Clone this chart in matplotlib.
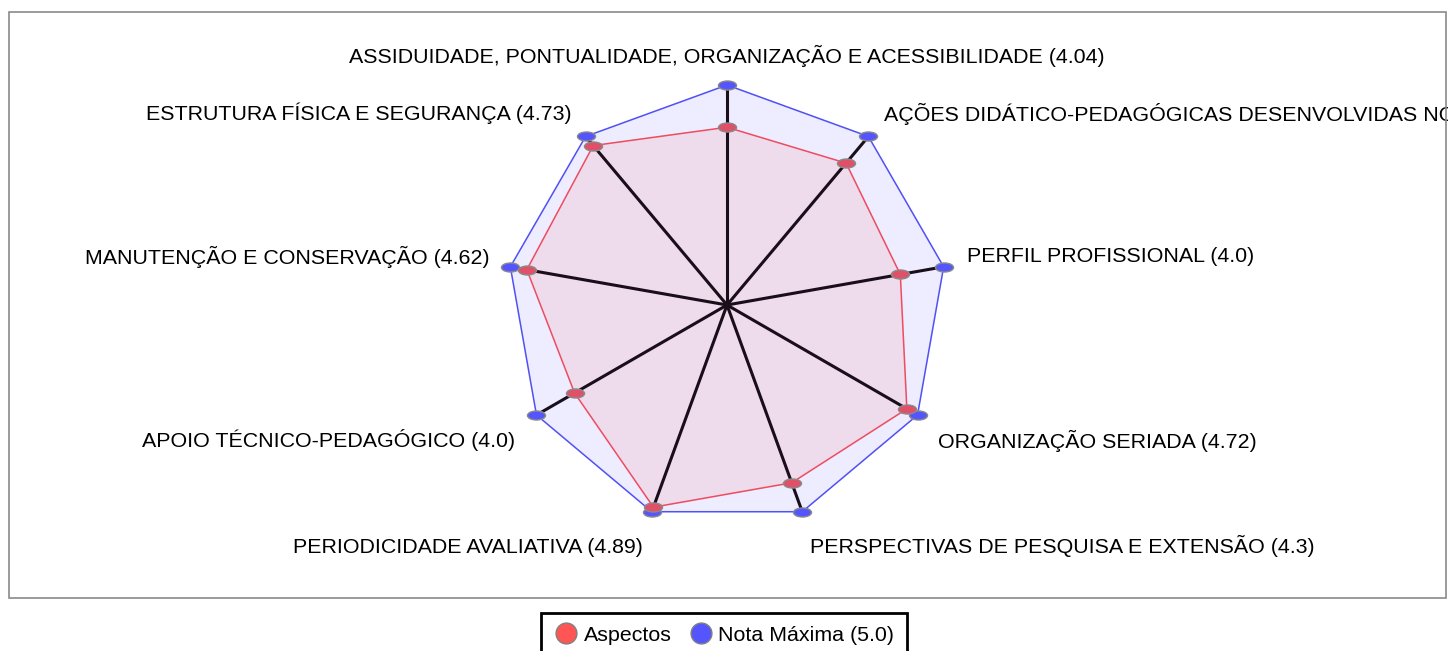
import numpy as np
import matplotlib
matplotlib.use("Agg")
import matplotlib.pyplot as plt
from matplotlib.path import Path
from matplotlib.transforms import Affine2D
from matplotlib.lines import Line2D
from matplotlib.patches import Rectangle

plt.rcParams['font.family'] = ['Liberation Sans', 'DejaVu Sans']

categories = [
    "ASSIDUIDADE, PONTUALIDADE, ORGANIZAÇÃO E ACESSIBILIDADE",
    "AÇÕES DIDÁTICO-PEDAGÓGICAS DESENVOLVIDAS NO CURSO",
    "PERFIL PROFISSIONAL",
    "ORGANIZAÇÃO SERIADA",
    "PERSPECTIVAS DE PESQUISA E EXTENSÃO",
    "PERIODICIDADE AVALIATIVA",
    "APOIO TÉCNICO-PEDAGÓGICO",
    "MANUTENÇÃO E CONSERVAÇÃO",
    "ESTRUTURA FÍSICA E SEGURANÇA",
]
value_labels = ["4.04", "4.21", "4.0", "4.72", "4.3", "4.89", "4.0", "4.62", "4.73"]
aspectos = [4.04, 4.21, 4.0, 4.72, 4.3, 4.89, 4.0, 4.62, 4.73]
nota_maxima = [5.0] * 9
legend_labels = ["Aspectos", "Nota Máxima (5.0)"]

# label offsets in pixels (style, not data)
label_offsets = [(0, 29), (16, 23), (23, 10), (20, -26), (8, -34),
                 (-9, -36), (-21, -25), (-21, 10), (-14, 23)]
label_ha = ["center", "left", "left", "left", "left", "right", "right", "right", "right"]

W, H = 1448, 651
fig = plt.figure(figsize=(W / 100, H / 100), dpi=100)

# outer frame
fig.add_artist(Rectangle((9 / W, 1 - 598 / H), (1446 - 9) / W, (598 - 12) / H,
                         transform=fig.transFigure, fill=False,
                         edgecolor='#8a8a8a', lw=1.2))

cx, cy, R = 727, 305, 220
ax = fig.add_axes([(cx - R) / W, (H - cy - R) / H, 2 * R / W, 2 * R / H], projection='polar')
ax.set_theta_zero_location('N')
ax.set_theta_direction(-1)
ax.set_ylim(0, 5)
ax.grid(False)
ax.set_xticks([])
ax.set_yticks([])
ax.spines['polar'].set_visible(False)
ax.patch.set_alpha(0)

n = len(categories)
theta = np.arange(n) * 2 * np.pi / n
tc = np.append(theta, theta[0])
am = np.append(aspectos, aspectos[0])
nm = np.append(nota_maxima, nota_maxima[0])

ax.fill(tc, nm, color='#5555FF', alpha=0.1, lw=0, zorder=1, clip_on=False)
ax.fill(tc, am, color='#FF4444', alpha=0.1, lw=0, zorder=2, clip_on=False)
for t, v in zip(theta, nota_maxima):
    ax.plot([t, t], [0, v], color='#1a0e1a', lw=2.2, zorder=3,
            solid_capstyle='butt', clip_on=False)
ax.plot(tc, nm, color='#5050F5', lw=1.1, zorder=4, clip_on=False)
ax.plot(tc, am, color='#EE4C60', lw=1.1, zorder=4, clip_on=False)

ell = Path.unit_circle().transformed(Affine2D().scale(1.0, 0.5))
ax.plot(theta, nota_maxima, ls='none', marker=ell, ms=13, mfc='#5555FF',
        mec='#8a8a8a', mew=1.0, zorder=5, clip_on=False)
ax.plot(theta, aspectos, ls='none', marker=ell, ms=13, mfc='#E05068',
        mec='#8a8a8a', mew=1.0, zorder=6, clip_on=False)

for t, c, vl, off, ha in zip(theta, categories, value_labels, label_offsets, label_ha):
    ax.annotate(f"{c} ({vl})", xy=(t, 5), xytext=off, textcoords='offset pixels',
                ha=ha, va='center', fontsize=15.4, color='black', annotation_clip=False)

handles = [
    Line2D([], [], ls='none', marker='o', ms=15, mfc='#FF5555', mec='#808080', mew=1),
    Line2D([], [], ls='none', marker='o', ms=15, mfc='#5555FF', mec='#808080', mew=1),
]
leg = fig.legend(handles, legend_labels, loc='upper center', ncol=2,
                 bbox_to_anchor=(0.5, 1 - 613 / H), frameon=True, fancybox=False,
                 framealpha=1, borderaxespad=0,
                 fontsize=15.4, handletextpad=0.2, columnspacing=0.8,
                 borderpad=0.6, handlelength=1.2)
leg.get_frame().set_edgecolor('black')
leg.get_frame().set_linewidth(2)

fig.savefig('out.png', dpi=100)
